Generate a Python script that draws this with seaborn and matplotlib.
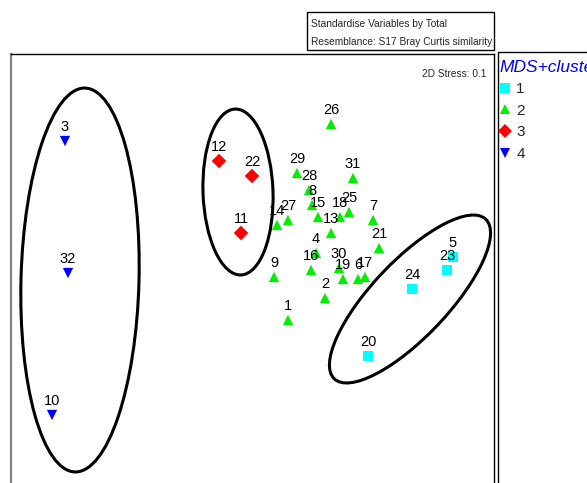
import matplotlib
matplotlib.use("Agg")
import matplotlib.pyplot as plt
from matplotlib.patches import Ellipse, Rectangle
from matplotlib.lines import Line2D
import seaborn as sns
import pandas as pd

# nMDS ordination coordinates of the 32 samples and their cluster group
sample_ids = [1, 2, 4, 6, 7, 8, 9, 13, 14, 15, 16, 17, 18, 19, 21, 25, 26, 27, 28, 29, 30, 31,
              11, 12, 22,
              5, 20, 23, 24,
              3, 10, 32]
mds1 = [0.38, 0.75, 0.66, 1.08, 1.23, 0.62, 0.24, 0.81, 0.27, 0.68, 0.61, 1.15, 0.90, 0.93, 1.29, 0.99,
        0.81, 0.38, 0.59, 0.47, 0.89, 1.03,
        -0.09, -0.31, 0.02,
        2.03, 1.18, 1.97, 1.62,
        -1.85, -1.98, -1.82]
mds2 = [-0.40, -0.18, 0.27, 0.01, 0.60, 0.75, 0.03, 0.47, 0.55, 0.63, 0.10, 0.03, 0.63, 0.01, 0.32, 0.68,
        1.56, 0.60, 0.90, 1.07, 0.12, 1.02,
        0.47, 1.19, 1.04,
        0.23, -0.76, 0.10, -0.09,
        1.39, -1.35, 0.07]
cluster = ["2"] * 22 + ["3"] * 3 + ["1"] * 4 + ["4"] * 3

cluster_levels = ["1", "2", "3", "4"]
cluster_colors = {"1": "#00ffff", "2": "#00ee00", "3": "#ff0000", "4": "#0000ff"}
cluster_markers = {"1": "s", "2": "^", "3": "D", "4": "v"}

# cluster outlines: centre x, centre y, width, height, angle
outline_x = [-1.70, -0.12, 1.60]
outline_y = [0.00, 0.88, -0.19]
outline_w = [1.18, 0.70, 2.20]
outline_h = [3.84, 1.66, 0.76]
outline_a = [-1.5, 2.0, 46.5]

stress_text = "2D Stress: 0.1"
header_lines = ["Standardise Variables by Total", "Resemblance: S17 Bray Curtis similarity"]

df = pd.DataFrame({"id": sample_ids, "MDS1": mds1, "MDS2": mds2, "cluster": cluster})

sns.set_theme(style="white")
plt.rcParams["font.family"] = ["Liberation Sans", "DejaVu Sans"]

W, H = 587, 483
fig = plt.figure(figsize=(W / 100, H / 100), dpi=100)
ax = fig.add_axes([11 / W, (H - 490) / H, 483 / W, 436 / H])

sns.scatterplot(data=df, x="MDS1", y="MDS2", hue="cluster", style="cluster",
                hue_order=cluster_levels, style_order=cluster_levels,
                palette=cluster_colors, markers=cluster_markers,
                s=55, linewidth=0, ax=ax, legend=False)

for _, r in df.iterrows():
    ax.annotate(str(r["id"]), (r["MDS1"], r["MDS2"]), xytext=(0, 7.5),
                textcoords="offset points", ha="center", va="baseline",
                fontsize=10.5, color="black")

for cx, cy, w, h, a in zip(outline_x, outline_y, outline_w, outline_h, outline_a):
    ax.add_patch(Ellipse((cx, cy), w, h, angle=a, fill=False, edgecolor="black", linewidth=2.2))

ax.set_xlim(-2.39, 2.44)
ax.set_ylim(-2.10, 2.26)
ax.set_xlabel("")
ax.set_ylabel("")
ax.set_xticks([])
ax.set_yticks([])
for side, sp in ax.spines.items():
    sp.set_color("black")
    sp.set_linewidth(1.0)
ax.spines["left"].set_color("#808080")
ax.spines["left"].set_linewidth(1.6)

ax.text(0.985, 0.965, stress_text, transform=ax.transAxes, ha="right", va="top", fontsize=7.3)

# header box
fig.patches.append(Rectangle((307 / W, 1 - 50 / H), 187 / W, 38 / H, transform=fig.transFigure,
                             fill=False, edgecolor="black", linewidth=1.0))
fig.text(311 / W, 1 - 27 / H, header_lines[0], fontsize=7.3, ha="left", va="baseline")
fig.text(311 / W, 1 - 45 / H, header_lines[1], fontsize=7.3, ha="left", va="baseline")

# legend panel
fig.patches.append(Rectangle((498 / W, -0.05), 100 / W, 1.05 - 52 / H, transform=fig.transFigure,
                             fill=False, edgecolor="black", linewidth=1.0))
handles = [Line2D([], [], linestyle="none", marker=cluster_markers[c], color=cluster_colors[c],
                  markersize=7, markeredgewidth=0) for c in cluster_levels]
leg = fig.legend(handles, cluster_levels, loc="upper left", bbox_to_anchor=(498 / W, 1 - 58 / H),
                 frameon=False, title="MDS+cluster", alignment="left", fontsize=11,
                 handlelength=0.7, handletextpad=0.4, labelspacing=0.5, borderpad=0.1,
                 borderaxespad=0)
leg.get_title().set_color("#0000ff")
leg.get_title().set_fontstyle("italic")
leg.get_title().set_fontsize(12.5)

fig.savefig("out.png", dpi=100)
